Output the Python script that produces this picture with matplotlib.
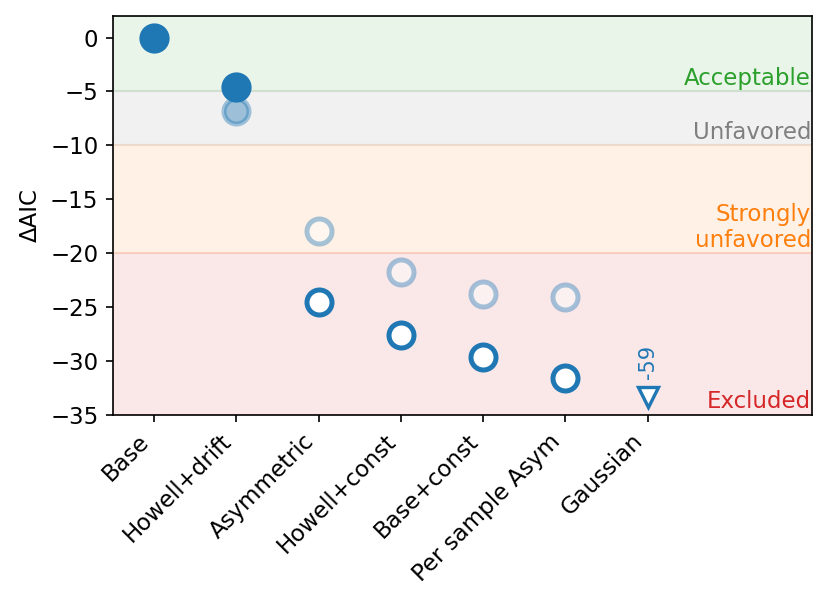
import numpy as np
import matplotlib
matplotlib.use("Agg")
import matplotlib.pyplot as plt

models = ["Base", "Howell+drift", "Asymmetric", "Howell+const", "Base+const",
          "Per sample Asym", "Gaussian"]
daic = [0.0, -4.6, -24.5, -27.6, -29.6, -31.6, -59.0]
daic_alt = [np.nan, -6.8, -17.9, -21.7, -23.8, -24.1, np.nan]
filled = [True, True, False, False, False, False, False]

bands = [(-5, 2, "C2", "Acceptable"), (-10, -5, "C7", "Unfavored"),
         (-20, -10, "C1", "Strongly\nunfavored"), (-35, -20, "C3", "Excluded")]
ymin, ymax = -35, 2

plt.rcParams["font.size"] = 11
fig, ax = plt.subplots(figsize=(829 / 150, 607 / 150), dpi=150)

for lo, hi, c, lab in bands:
    ax.axhspan(lo, hi, color=c, alpha=0.1)
    ax.text(8 - 0.01, lo + 0.15, lab, color=c, ha="right", va="bottom",
            fontsize=11, linespacing=1.15)

x = np.arange(len(models))
for i in range(len(models)):
    # alternative variant, faded
    if not np.isnan(daic_alt[i]):
        face = "C0" if filled[i] else "white"
        ax.plot(x[i], daic_alt[i], "o", ms=12, mfc=face, mec="C0", mew=2.4,
                alpha=0.4, ls="none")
    if daic[i] < ymin:
        # off the bottom of the axis: arrow marker with its value
        ax.plot(x[i], ymin + 1.7, "v", ms=10, mfc="white", mec="C0", mew=1.6)
        ax.text(x[i], ymin + 3.3, "%d" % daic[i], color="C0", rotation=90,
                ha="center", va="bottom", fontsize=10)
    elif filled[i]:
        ax.plot(x[i], daic[i], "o", ms=13.5, color="C0")
    else:
        ax.plot(x[i], daic[i], "o", ms=12, mfc="white", mec="C0", mew=2.4)

ax.set_xlim(-0.5, 8)
ax.set_ylim(ymin, ymax)
ax.set_xticks(x)
ax.set_xticklabels(models, rotation=45, ha="right", fontsize=11)
ax.set_ylabel("ΔAIC")
ax.tick_params(labelsize=11)

fig.subplots_adjust(left=113 / 829, right=812 / 829, top=1 - 16 / 607, bottom=1 - 415 / 607)
fig.savefig("out.png", dpi=150)
